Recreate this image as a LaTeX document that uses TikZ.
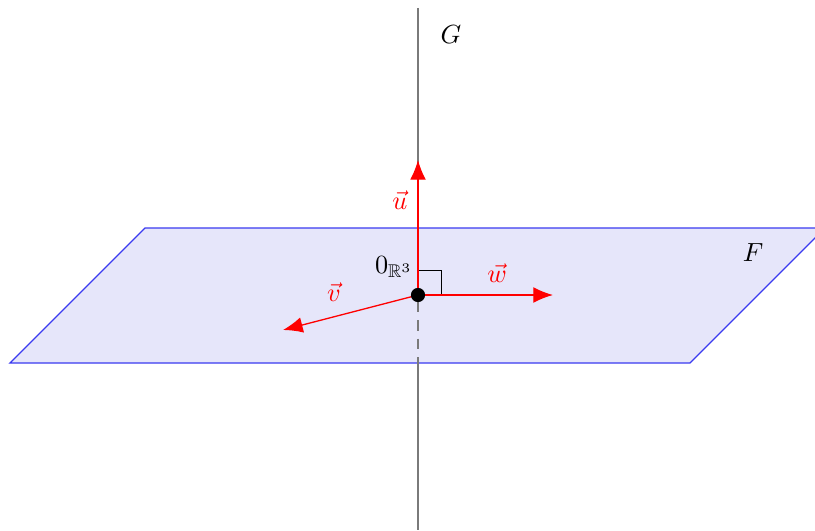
\documentclass[tikz,border=0pt]{standalone}
\usepackage{amsmath,amssymb}
\usepackage{xcolor}
\usepackage{tikz}
\usetikzlibrary{arrows.meta}
\definecolor{planefill}{HTML}{E6E6FA}
\definecolor{planeedge}{HTML}{3A3AF0}
\definecolor{axisgray}{HTML}{7A7A7A}

\begin{document}
\begin{tikzpicture}[
 x=0.0134cm, y=-0.0134cm,
 plane/.style={fill=planefill,draw=planeedge,line width=0.5pt},
 axis/.style={draw=axisgray,line width=0.7pt},
 vec/.style={draw=red,line width=0.5pt,-{Latex[length=7.5pt,width=6pt]}},
 veclabel/.style={text=red,inner sep=1pt},
]
\clip (0,0) rectangle (815,530);
% points
\coordinate (O) at (418,295);
\coordinate (Gtop) at (418,8);
\coordinate (Gbot) at (418,530);
\coordinate (Fbot) at (418,363);
\coordinate (Odash) at (418,302);
\coordinate (utip) at (418,160);
\coordinate (vtip) at (283,330);
\coordinate (wtip) at (553,295);
% plane F
\draw[plane] (145,228) coordinate (p1) -- (825,228) coordinate (p2)
 -- (690,363) coordinate (p3) -- (10,363) coordinate (p4) -- cycle;
% line G
\draw[axis] (Gtop) -- (O);
\draw[axis,dash pattern=on 4pt off 3pt] (Odash) -- (Fbot);
\draw[axis] (Fbot) -- (Gbot);
% right angle
\draw[line width=0.3pt] (418,270) -- (441,270) -- (441,295);
% vectors
\draw[vec] (O) -- (utip);
\draw[vec] (O) -- (vtip);
\draw[vec] (O) -- (wtip);
\fill (O) circle (2.7pt);
% labels
\node (lG) at (451,35) {$G$};
\node (lF) at (753,253) {$F$};
\node[veclabel] (lu) at (400,200) {$\vec{u}$};
\node[veclabel] (lv) at (334,292) {$\vec{v}$};
\node[veclabel] (lw) at (497,273) {$\vec{w}$};
\node (lO) at (394,267) {$0_{\mathbb{R}^3}$};
\end{tikzpicture}
\end{document}
